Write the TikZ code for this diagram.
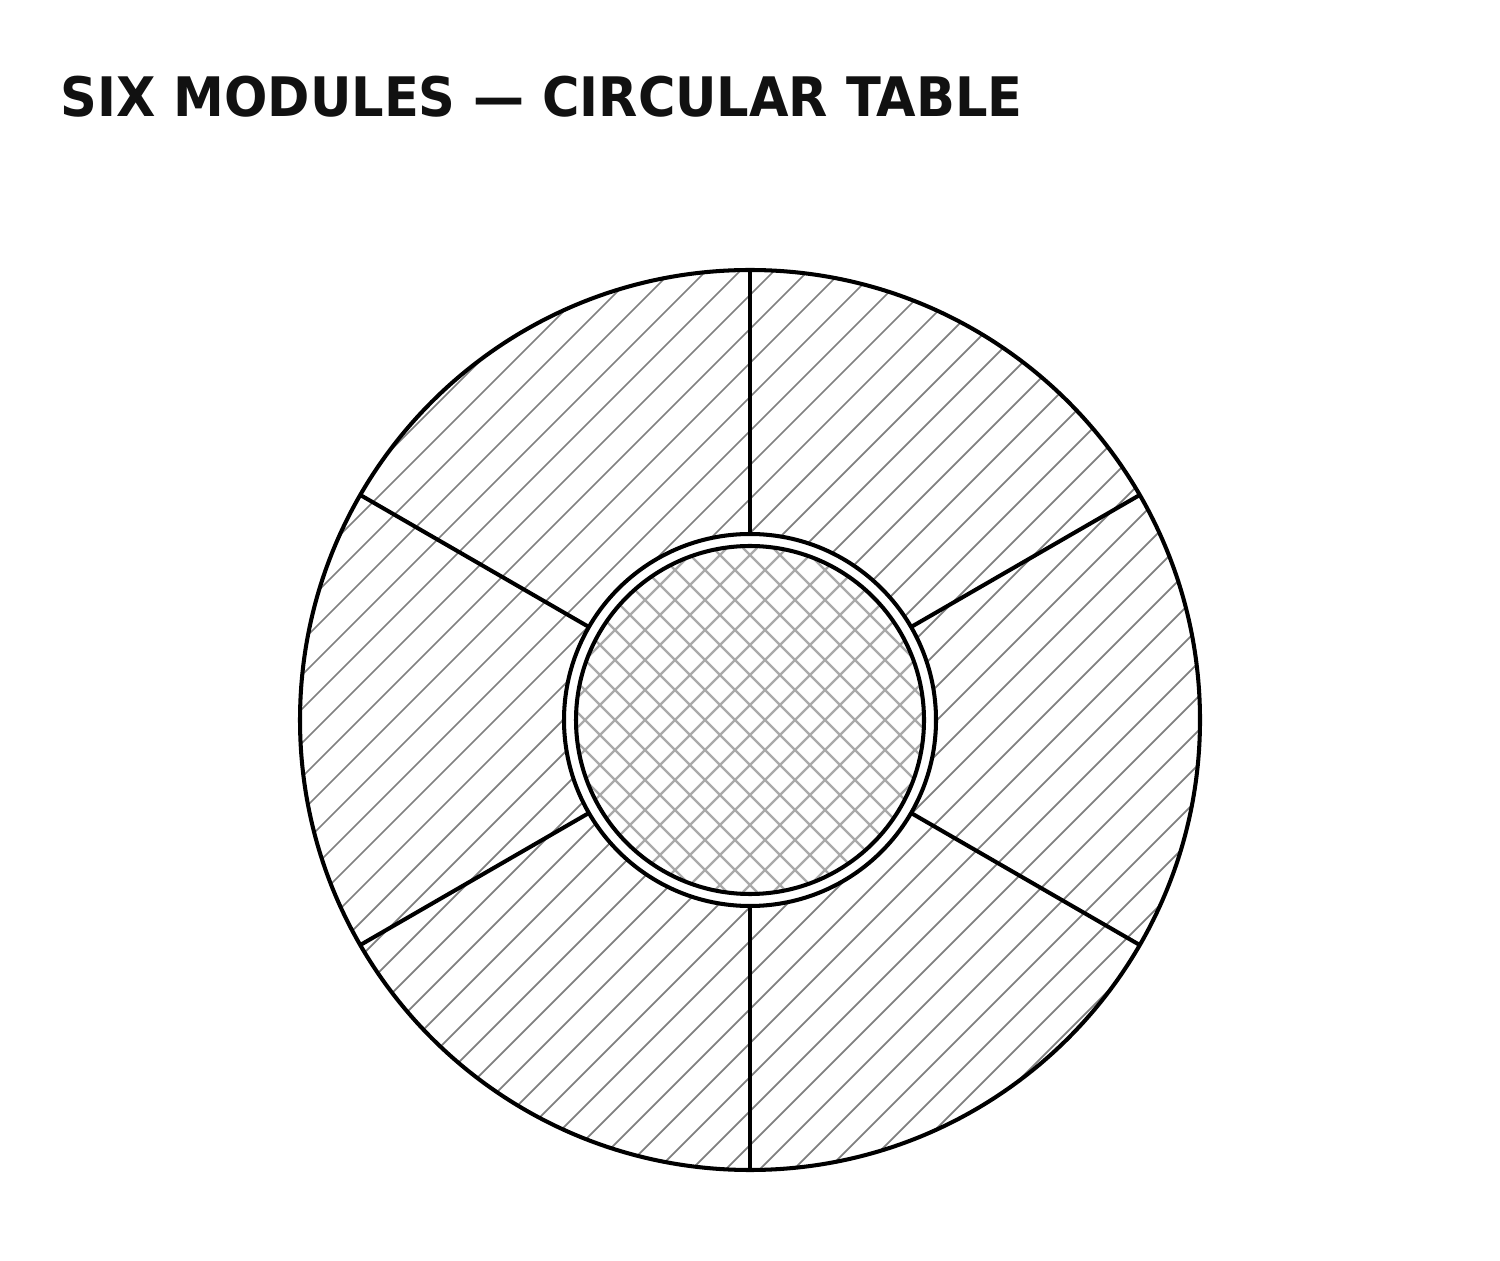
\documentclass[tikz,border=0pt]{standalone}
\usepackage{fontspec}
\setmainfont{DejaVu Sans}
\newfontfamily\titlefont[FakeStretch=0.937]{DejaVu Sans}
\definecolor{titleink}{HTML}{111111}
\definecolor{hatchgray}{HTML}{808080}
\definecolor{meshgray}{HTML}{AAAAAA}
\tikzset{
  table edge/.style={
    draw=black,
    line width=1.15pt,
  },
  divider/.style={
    draw=black,
    line width=1.15pt,
  },
  hatch line/.style={
    draw=hatchgray,
    line width=0.5pt,
  },
  mesh line/.style={
    draw=meshgray,
    line width=0.65pt,
  },
  title text/.style={
    anchor=base west,
    inner sep=0pt,
    text=titleink,
    font=\titlefont\fontsize{15.5}{18}\selectfont\bfseries,
  },
}

\begin{document}
\begin{tikzpicture}[x=0.1mm, y=0.1mm]
        \useasboundingbox (0,0) rectangle (1500,1260);
        \coordinate (c) at (750,540);
        \node[title text] (title) at (60,1143) {SIX MODULES — CIRCULAR TABLE};

        % table top hatching
        \begin{scope}
          \clip (c) circle (450);
          \foreach \k in {-20,...,20}
            \draw[hatch line, shift={(c)}] (\k*34+17-470,-470) -- ++(940,940);
        \end{scope}

        % centre well
        \fill[white] (c) circle (186);
        \begin{scope}
          \clip (c) circle (174);
          \foreach \k in {-8,...,8} {
            \draw[mesh line, shift={(c)}] (\k*30+15-200,-200) -- ++(400,400);
            \draw[mesh line, shift={(c)}] (\k*30+15+200,-200) -- ++(-400,400);
          }
        \end{scope}

        \draw[table edge] (c) circle (450);
        \draw[table edge] (c) circle (186);
        \draw[table edge] (c) circle (174);

        \foreach \a in {90,30,-30,-90,210,150}
          \draw[divider, shift={(c)}] (\a:186) -- (\a:450);
      \end{tikzpicture}
\end{document}
